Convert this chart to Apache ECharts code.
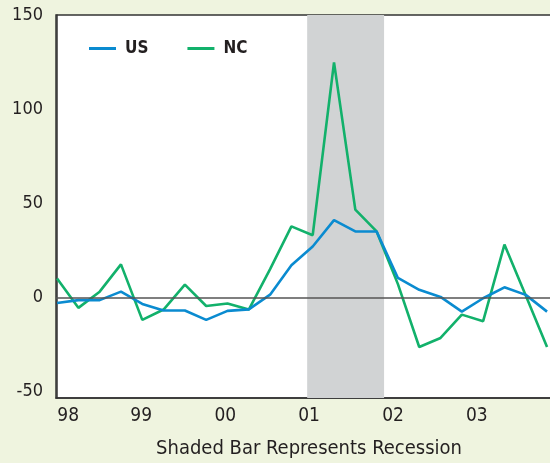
<!DOCTYPE html>
<html>
<head>
<meta charset="utf-8">
<script src="https://cdn.jsdelivr.net/npm/echarts@6/dist/echarts.min.js"></script>
<style>
html,body{margin:0;padding:0;background:#eff4df;}
#c{width:550px;height:463px;}
</style>
</head>
<body>
<div id="c"></div>
<script>
// Quarterly % change, 1998Q1 .. 2003Q4
const quarters = ['98Q1','98Q2','98Q3','98Q4','99Q1','99Q2','99Q3','99Q4','00Q1','00Q2','00Q3','00Q4',
                  '01Q1','01Q2','01Q3','01Q4','02Q1','02Q2','02Q3','02Q4','03Q1','03Q2','03Q3','03Q4'];
const usValues = [-3, -1.5, -1.5, 3, -3.5, -7, -7, -12, -7.2, -6.4, 1.4, 17,
                  27, 41, 35, 35, 10.3, 4, 0.2, -7.6, -0.5, 5.3, 1.3, -7.6];
const ncValues = [10, -5.6, 3, 17.5, -12, -6.5, 6.7, -4.6, -3.3, -6.5, 15, 37.7,
                  33, 124.8, 46.6, 35, 7, -26.4, -21.6, -9.2, -12.7, 28, 1, -26.4];
const yearLabels = ['98','99','00','01','02','03'];
const yearLabelAt = [0.52, 3.95, 7.9, 11.83, 15.77, 19.7];
const yTicks = [-50, 0, 50, 100, 150];
const recession = [11.74, 15.35];

const FONT = "'Liberation Sans Narrow', 'DejaVu Sans Condensed', 'Liberation Sans', sans-serif";
const chart = echarts.init(document.getElementById('c'));
const toPairs = arr => arr.map((v, i) => [i, v]);

chart.setOption({
  backgroundColor: '#eff4df',
  animation: false,
  title: {
    text: 'Shaded Bar Represents Recession',
    left: 304, textAlign: 'center', top: 434,
    textStyle: {fontFamily: FONT, fontSize: 20, fontWeight: 'normal', color: '#231f20'}
  },
  legend: {
    left: 84, top: 35, itemWidth: 27, itemHeight: 3, itemGap: 39,
    icon: 'rect',
    textStyle: {fontFamily: FONT, fontSize: 17, fontWeight: 'bold', color: '#231f20', padding: [0,0,0,4]},
    data: ['US', 'NC']
  },
  grid: {
    left: 56, top: 15, width: 500, bottom: 65,
    outerBoundsMode: 'none', containLabel: false,
    show: true, backgroundColor: '#ffffff', borderColor: '#333333', borderWidth: 1.5
  },
  xAxis: {
    type: 'value', min: -0.05, max: 23.42,
    axisLine: {show: true, onZero: false, lineStyle: {color: '#333333', width: 1.5}},
    axisTick: {show: false},
    splitLine: {show: false},
    axisLabel: {
      customValues: yearLabelAt,
      margin: 9,
      fontFamily: FONT, fontSize: 19, color: '#231f20',
      formatter: v => {
        let best = 0;
        yearLabelAt.forEach((p, i) => { if (Math.abs(p - v) < Math.abs(yearLabelAt[best] - v)) best = i; });
        return yearLabels[best];
      }
    }
  },
  yAxis: {
    type: 'value', min: -53.5, max: 150,
    axisLine: {show: true, lineStyle: {color: '#333333', width: 1.5}},
    axisTick: {show: false},
    splitLine: {show: false},
    axisLabel: {customValues: yTicks, margin: 13, fontFamily: FONT, fontSize: 18, color: '#231f20'}
  },
  series: [
    {
      type: 'line', name: 'recession', data: [], z: 1, silent: true,
      markArea: {silent: true, itemStyle: {color: '#d1d3d4'}, data: [[{xAxis: recession[0]}, {xAxis: recession[1]}]]},
      markLine: {silent: true, symbol: 'none', label: {show: false},
        lineStyle: {color: '#555555', width: 1.5, type: 'solid'}, data: [{yAxis: 0}]}
    },
    {
      type: 'line', name: 'US', data: toPairs(usValues), z: 3, showSymbol: false,
      lineStyle: {color: '#0a8bd0', width: 2.6}, itemStyle: {color: '#0a8bd0'}
    },
    {
      type: 'line', name: 'NC', data: toPairs(ncValues), z: 2, showSymbol: false,
      lineStyle: {color: '#12b16b', width: 2.6}, itemStyle: {color: '#12b16b'}
    }
  ]
});
</script>
</body>
</html>
